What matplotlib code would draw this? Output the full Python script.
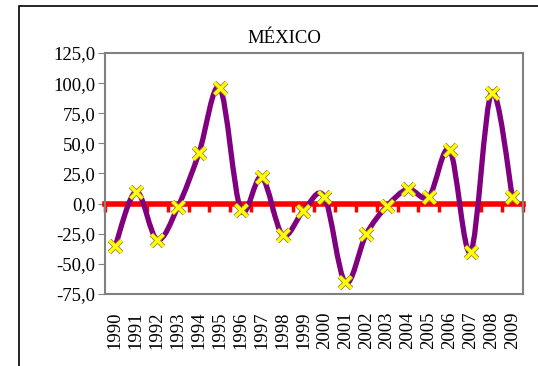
import matplotlib.pyplot as plt
import numpy as np
from matplotlib.path import Path
from matplotlib.patches import PathPatch, Rectangle
from matplotlib.ticker import FuncFormatter

years = [str(y) for y in range(1990, 2010)]
values = [-35, 10, -30, -2.5, 42, 96, -5, 22, -26, -6,
          5.7, -65.5, -25.5, -2, 12, 5.7, 44.5, -40, 92, 5.2]
title = 'MÉXICO'

plt.rcParams['font.family'] = ['Liberation Serif', 'DejaVu Serif']


def smooth_path(x, y):
    # Bezier segments like a spreadsheet "smoothed line"
    pts = np.column_stack([x, y])
    n = len(pts)
    verts = [pts[0]]
    codes = [Path.MOVETO]
    for i in range(n - 1):
        p0 = pts[max(i - 1, 0)]
        p1 = pts[i]
        p2 = pts[i + 1]
        p3 = pts[min(i + 2, n - 1)]
        c1 = p1 + (p2 - p0) / 6.0
        c2 = p2 - (p3 - p1) / 6.0
        verts += [c1, c2, p2]
        codes += [Path.CURVE4] * 3
    return Path(verts, codes)


def main():
    fig = plt.figure(figsize=(5.38, 3.66), dpi=100)
    ax = fig.add_axes([0.195, 0.197, 0.777, 0.658])

    x = np.arange(len(years))
    ymin, ymax = -75, 125

    # red zero axis with category ticks
    sec = ax.secondary_xaxis((0 - ymin) / (ymax - ymin))
    sec.spines['bottom'].set_color('red')
    sec.spines['bottom'].set_linewidth(4)
    sec.set_xticks(np.arange(-0.5, len(years), 1))
    sec.tick_params(axis='x', color='red', width=2.5, length=6, labelbottom=False)
    sec.set_zorder(2)

    ax.add_patch(PathPatch(smooth_path(x, values), facecolor='none',
                           edgecolor='#800080', lw=3.8, zorder=4))
    ax.plot(x, values, ls='None', marker='x', ms=9, mew=3.6,
            color='#a08040', zorder=5)
    ax.plot(x, values, ls='None', marker='x', ms=8, mew=2.4,
            color='#ffff00', zorder=6)

    ax.set_xlim(-0.5, len(years) - 0.5)
    ax.set_ylim(ymin, ymax)
    ax.set_yticks(np.arange(ymin, ymax + 1, 25))
    ax.yaxis.set_major_formatter(FuncFormatter(lambda v, p: f'{v:.1f}'.replace('.', ',')))
    ax.set_xticks(x)
    ax.set_xticklabels(years, rotation=90)
    ax.tick_params(axis='x', length=0, labelsize=13.5, pad=13)
    ax.tick_params(axis='y', length=5, color='#808080', labelsize=13.5, pad=2)
    for s in ax.spines.values():
        s.set_color('#808080')
        s.set_linewidth(1.5)

    fig.text(0.528, 0.896, title, ha='center', va='center', fontsize=13.5)
    fig.patches.append(Rectangle((19 / 538, -0.1), 1.2, 1 - 6 / 366 + 0.1,
                                 transform=fig.transFigure, fill=False,
                                 edgecolor='black', lw=1.2))

    fig.savefig('out.png', dpi=100)


if __name__ == "__main__":
    main()
